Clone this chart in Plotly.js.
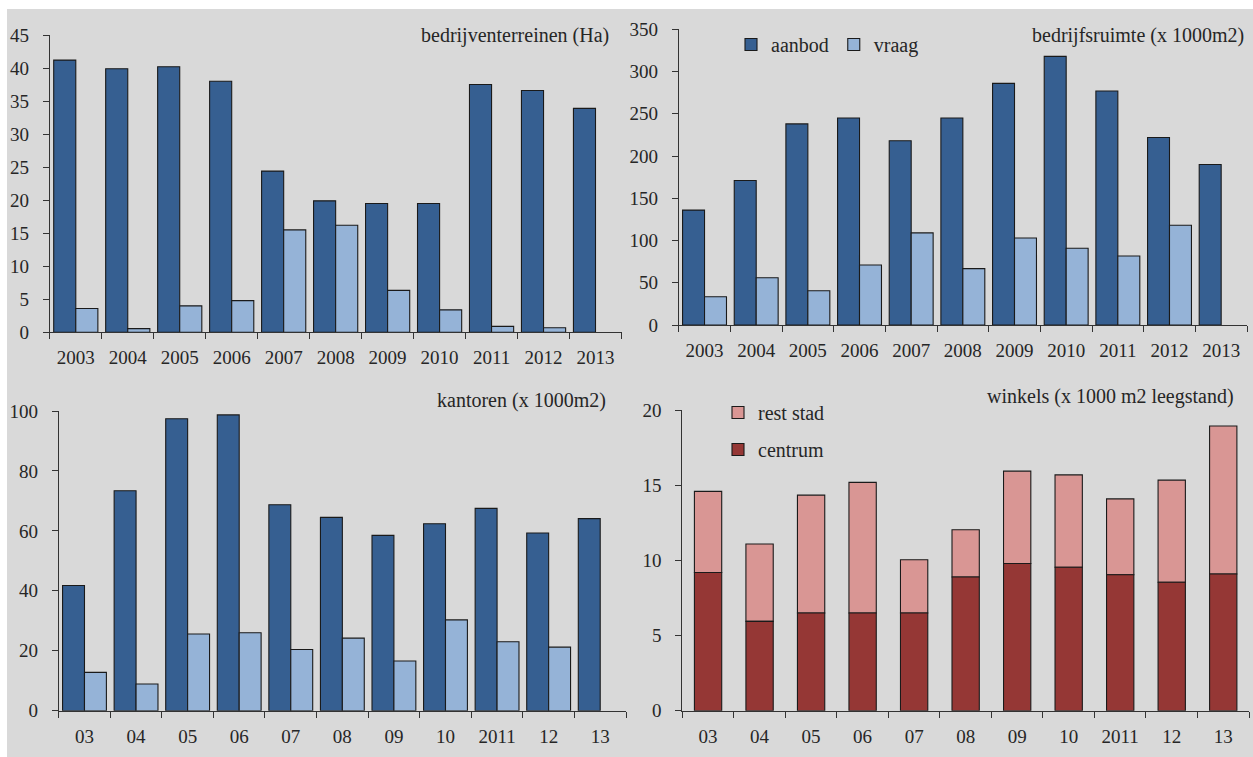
<!DOCTYPE html>
<html>
<head>
<meta charset="utf-8">
<script src="https://cdn.plot.ly/plotly-3.0.1.min.js"></script>
<style>
  html, body { margin: 0; padding: 0; background: #ffffff; }
  #chart { position: absolute; left: 7px; top: 9px; width: 1246px; height: 748px; }
</style>
</head>
<body>
<div id="chart"></div>
<script>
// ---------- data ----------
var yearsFull = ['2003','2004','2005','2006','2007','2008','2009','2010','2011','2012','2013'];
var yearsShort = ['03','04','05','06','07','08','09','10','2011','12','13'];

var terreinAanbod = [41.2, 39.9, 40.2, 38.0, 24.4, 19.9, 19.5, 19.5, 37.5, 36.6, 33.9];
var terreinVraag  = [3.6, 0.55, 4.0, 4.8, 15.5, 16.2, 6.35, 3.4, 0.9, 0.7, null];

var ruimteAanbod = [136, 171, 238, 245, 218, 245, 286, 318, 277, 222, 190];
var ruimteVraag  = [33.5, 56, 40.6, 71, 109, 66.7, 103, 90.8, 81.7, 118, null];

var kantorenAanbod = [41.8, 73.4, 97.4, 98.7, 68.7, 64.5, 58.5, 62.4, 67.5, 59.3, 64.1];
var kantorenVraag  = [12.8, 8.9, 25.6, 26.0, 20.4, 24.2, 16.6, 30.3, 23.0, 21.2, null];

var winkelsCentrum  = [9.2, 5.95, 6.5, 6.5, 6.5, 8.9, 9.8, 9.55, 9.05, 8.55, 9.1];
var winkelsRestStad = [5.4, 5.15, 7.85, 8.7, 3.55, 3.15, 6.15, 6.15, 5.05, 6.8, 9.85];

// ---------- styling ----------
var DARK_BLUE = '#365f91', LIGHT_BLUE = '#95b3d7';
var DARK_RED = '#953735', PINK = '#d99694';
var OUTLINE = '#1a1a1a';
var BG = '#d9d9d9';
var FONT = 'Liberation Serif, Times New Roman, serif';
var TXT = '#262626';

// pixel -> paper helpers (container is 1246x748 placed at 7,9)
function px(x) { return (x - 7) / 1246; }
function py(y) { return 1 - (y - 9) / 748; }

function bar(x, y, name, color, xa, ya, legend, showlegend) {
  return {
    type: 'bar', x: x, y: y, name: name, xaxis: xa, yaxis: ya,
    marker: { color: color, line: { color: OUTLINE, width: 1.1 } },
    legend: legend, showlegend: showlegend, hoverinfo: 'x+y+name'
  };
}

var traces = [
  bar(yearsFull, terreinAanbod, 'aanbod', DARK_BLUE, 'x', 'y', 'legend', false),
  bar(yearsFull, terreinVraag, 'vraag', LIGHT_BLUE, 'x', 'y', 'legend', false),
  bar(yearsFull, ruimteAanbod, 'aanbod', DARK_BLUE, 'x2', 'y2', 'legend', true),
  bar(yearsFull, ruimteVraag, 'vraag', LIGHT_BLUE, 'x2', 'y2', 'legend', true),
  bar(yearsShort, kantorenAanbod, 'aanbod', DARK_BLUE, 'x3', 'y3', 'legend', false),
  bar(yearsShort, kantorenVraag, 'vraag', LIGHT_BLUE, 'x3', 'y3', 'legend', false)
];

var rest = bar(yearsShort, winkelsRestStad, 'rest stad', PINK, 'x4', 'y4', 'legend2', true);
rest.base = winkelsCentrum; rest.offset = -0.265; rest.width = 0.53; rest.legendgroup = 'r';
var centrum = bar(yearsShort, winkelsCentrum, 'centrum', DARK_RED, 'x4', 'y4', 'legend2', true);
centrum.offset = -0.265; centrum.width = 0.53; centrum.legendgroup = 'c';
traces.push(rest, centrum);

function xAxis(domain, anchor) {
  return {
    domain: domain, anchor: anchor, type: 'category', range: [-0.5, 10.5],
    showline: true, linecolor: '#333333', linewidth: 1,
    ticks: 'outside', tickson: 'boundaries', ticklen: 6, tickcolor: '#333333', tickwidth: 1,
    showgrid: false, zeroline: false, fixedrange: true,
    tickfont: { family: FONT, size: 19, color: TXT }, ticklabelstandoff: 8
  };
}
function yAxis(domain, anchor, max, dtick) {
  return {
    domain: domain, anchor: anchor, range: [0, max], dtick: dtick, tick0: 0,
    showline: true, linecolor: '#333333', linewidth: 1,
    ticks: 'outside', ticklen: 6, tickcolor: '#333333', tickwidth: 1,
    showgrid: false, zeroline: false, fixedrange: true,
    tickfont: { family: FONT, size: 19, color: TXT }, ticklabelstandoff: 10
  };
}

function title(text, xr, yc) {
  return {
    text: text, xref: 'paper', yref: 'paper', x: px(xr), y: py(yc),
    xanchor: 'right', yanchor: 'middle', showarrow: false,
    font: { family: FONT, size: 20, color: TXT }
  };
}

var layout = {
  width: 1246, height: 748,
  margin: { l: 0, r: 0, t: 0, b: 0 },
  paper_bgcolor: BG, plot_bgcolor: 'rgba(0,0,0,0)',
  barmode: 'group', bargap: 0.15, bargroupgap: 0,
  font: { family: FONT, color: TXT },
  xaxis:  xAxis([px(49.8), px(621.5)], 'y'),
  yaxis:  yAxis([py(332.3), py(35)], 'x', 45, 5),
  xaxis2: xAxis([px(678.7), px(1247)], 'y2'),
  yaxis2: yAxis([py(325), py(29.3)], 'x2', 350, 50),
  xaxis3: xAxis([px(58.7), px(626)], 'y3'),
  yaxis3: yAxis([py(710.7), py(411)], 'x3', 100, 20),
  xaxis4: xAxis([px(682.3), px(1249)], 'y4'),
  yaxis4: yAxis([py(710.7), py(410.3)], 'x4', 20, 5),
  legend: {
    orientation: 'h', x: px(731), y: py(44.5), xanchor: 'left', yanchor: 'middle',
    bgcolor: 'rgba(0,0,0,0)', borderwidth: 0,
    font: { family: FONT, size: 20, color: TXT }, traceorder: 'normal'
  },
  legend2: {
    orientation: 'v', x: px(718), y: py(393), xanchor: 'left', yanchor: 'top',
    bgcolor: 'rgba(0,0,0,0)', borderwidth: 0, tracegroupgap: 8,
    font: { family: FONT, size: 20, color: TXT }, traceorder: 'grouped'
  },
  annotations: [
    title('bedrijventerreinen (Ha)', 611, 35),
    title('bedrijfsruimte (x 1000m2)', 1246, 35),
    title('kantoren (x 1000m2)', 607.5, 400),
    title('winkels (x 1000 m2 leegstand)', 1236, 396.7)
  ]
};

Plotly.newPlot('chart', traces, layout, { displayModeBar: false, staticPlot: true });
</script>
</body>
</html>
